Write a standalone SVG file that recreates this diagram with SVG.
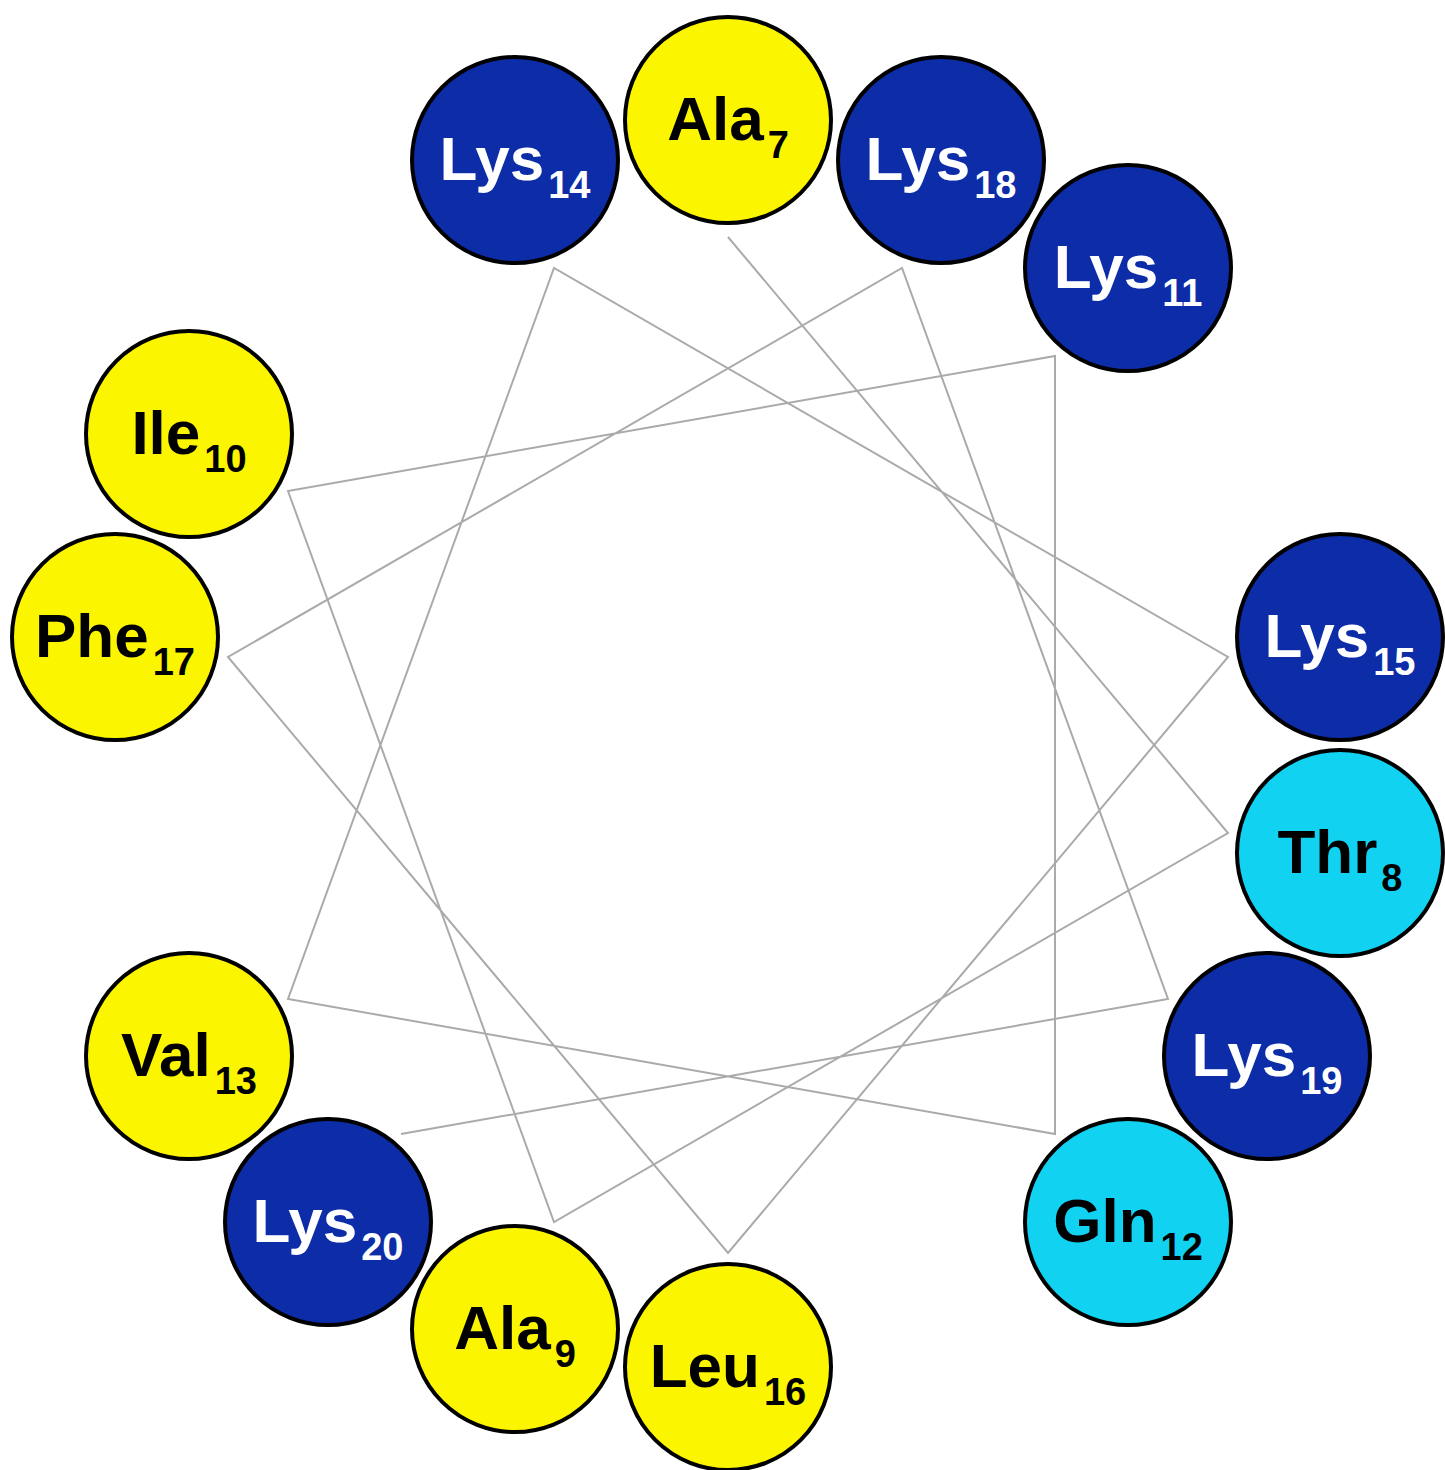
<svg xmlns="http://www.w3.org/2000/svg" width="1445" height="1470" viewBox="0 0 1445 1470">
<style>
.res circle{stroke:#000;stroke-width:4}
.hyd circle{fill:#fbf500}
.pos circle{fill:#0c2ca8}
.pol circle{fill:#12d2f2}
text{font-family:"Liberation Sans",Arial,sans-serif;font-weight:bold;font-size:62px;text-anchor:middle}
.hyd text,.pol text{fill:#000}
.pos text{fill:#fff}
.sub{font-size:38px}
#connectors polyline{fill:none;stroke:#aaaaaa;stroke-width:2}
</style>
<rect width="1445" height="1470" fill="#fff"/>
<g id="connectors">
<polyline points="728,237 1228,833 554,1222 288,491 1055,356 1055,1134 288,999 554,268 1228,657 728,1253 228,657 902,268 1168,999 401,1134"/>
</g>
<g id="Ala7" class="res hyd"><circle cx="728" cy="120" r="103"/><text x="728" y="140">Ala<tspan class="sub" dx="4" dy="18">7</tspan></text></g>
<g id="Thr8" class="res pol"><circle cx="1340" cy="853" r="103"/><text x="1340" y="873">Thr<tspan class="sub" dx="4" dy="18">8</tspan></text></g>
<g id="Ala9" class="res hyd"><circle cx="515" cy="1329" r="103"/><text x="515" y="1349">Ala<tspan class="sub" dx="4" dy="18">9</tspan></text></g>
<g id="Ile10" class="res hyd"><circle cx="189" cy="434" r="103"/><text x="189" y="454">Ile<tspan class="sub" dx="4" dy="18">10</tspan></text></g>
<g id="Lys11" class="res pos"><circle cx="1128" cy="268" r="103"/><text x="1128" y="288">Lys<tspan class="sub" dx="4" dy="18">11</tspan></text></g>
<g id="Gln12" class="res pol"><circle cx="1128" cy="1222" r="103"/><text x="1128" y="1242">Gln<tspan class="sub" dx="4" dy="18">12</tspan></text></g>
<g id="Val13" class="res hyd"><circle cx="189" cy="1056" r="103"/><text x="189" y="1076">Val<tspan class="sub" dx="4" dy="18">13</tspan></text></g>
<g id="Lys14" class="res pos"><circle cx="515" cy="160" r="103"/><text x="515" y="180">Lys<tspan class="sub" dx="4" dy="18">14</tspan></text></g>
<g id="Lys15" class="res pos"><circle cx="1340" cy="637" r="103"/><text x="1340" y="657">Lys<tspan class="sub" dx="4" dy="18">15</tspan></text></g>
<g id="Leu16" class="res hyd"><circle cx="728" cy="1367" r="103"/><text x="728" y="1387">Leu<tspan class="sub" dx="4" dy="18">16</tspan></text></g>
<g id="Phe17" class="res hyd"><circle cx="115" cy="637" r="103"/><text x="115" y="657">Phe<tspan class="sub" dx="4" dy="18">17</tspan></text></g>
<g id="Lys18" class="res pos"><circle cx="941" cy="160" r="103"/><text x="941" y="180">Lys<tspan class="sub" dx="4" dy="18">18</tspan></text></g>
<g id="Lys19" class="res pos"><circle cx="1267" cy="1056" r="103"/><text x="1267" y="1076">Lys<tspan class="sub" dx="4" dy="18">19</tspan></text></g>
<g id="Lys20" class="res pos"><circle cx="328" cy="1222" r="103"/><text x="328" y="1242">Lys<tspan class="sub" dx="4" dy="18">20</tspan></text></g>
</svg>
